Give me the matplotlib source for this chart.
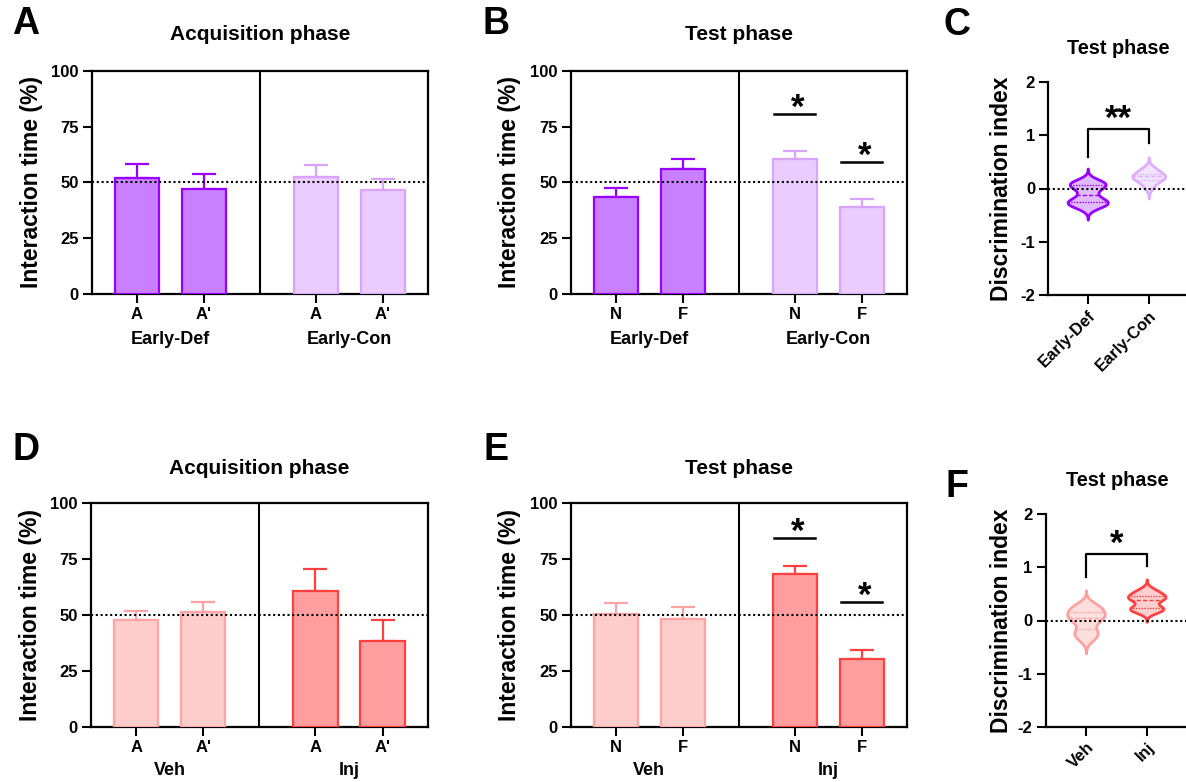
import numpy as np
import matplotlib
matplotlib.use("Agg")
import matplotlib.pyplot as plt
from matplotlib.transforms import blended_transform_factory

plt.rcParams["font.family"] = ["Liberation Sans", "DejaVu Sans"]
plt.rcParams["font.weight"] = "bold"
plt.rcParams["axes.unicode_minus"] = False

# ---- data ----
acq_def_mean = [51.8, 47.2]
acq_def_sem = [6.4, 6.5]
acq_con_mean = [52.5, 46.7]
acq_con_sem = [5.1, 4.9]

test_def_mean = [43.4, 56.0]
test_def_sem = [4.2, 4.3]
test_con_mean = [60.4, 39.0]
test_con_sem = [3.5, 3.5]

acq_veh_mean = [47.6, 51.3]
acq_veh_sem = [4.3, 4.4]
acq_inj_mean = [60.6, 38.2]
acq_inj_sem = [9.9, 9.6]

test_veh_mean = [50.6, 48.4]
test_veh_sem = [4.9, 5.2]
test_inj_mean = [68.4, 30.3]
test_inj_sem = [3.7, 4.0]

acq_ticks = ["A", "A'", "A", "A'"]
test_ticks = ["N", "F", "N", "F"]

# discrimination index, individual animals (estimated)
di_early_def = [-0.36, -0.3, -0.27, -0.25, -0.22, -0.13, -0.03, 0.05, 0.07, 0.1, 0.15]
di_early_con = [0.02, 0.13, 0.16, 0.2, 0.23, 0.24, 0.27, 0.33, 0.38]
di_veh = [-0.35, -0.25, -0.2, -0.05, 0.03, 0.08, 0.12, 0.18, 0.24, 0.3]
di_inj = [0.17, 0.2, 0.23, 0.26, 0.38, 0.41, 0.44, 0.47, 0.52, 0.58]

# ---- colours ----
PUR_D = ("#C880FF", "#9900FF")
PUR_L = ("#EACCFF", "#D9A3FF")
RED_D = ("#FF9E9E", "#FF4040")
RED_L = ("#FFCCCC", "#FFA3A3")

W, H = 1186, 782
fig = plt.figure(figsize=(W / 100, H / 100), dpi=100)


def rect(l, t, r, b):
    return [l / W, 1 - b / H, (r - l) / W, (b - t) / H]


bar_pos = np.array([0, 1, 2.67, 3.67])


def bar_panel(box, means1, sems1, means2, sems2, c1, c2, ticks, groups, sig, grp_y):
    ax = fig.add_axes(rect(*box))
    for pos, m, s, (fc, ec) in [(bar_pos[:2], means1, sems1, c1), (bar_pos[2:], means2, sems2, c2)]:
        ax.bar(pos, m, width=0.66, color=fc, edgecolor=ec, linewidth=1.6, zorder=3)
        ax.errorbar(pos, m, yerr=[np.zeros(len(s)), s], fmt="none", ecolor=ec,
                    elinewidth=1.6, capsize=8.5, capthick=1.6, zorder=2)
    ax.axhline(50, color="black", lw=1.5, ls=(0, (1, 1.3)), zorder=6)
    ax.axvline((bar_pos[1] + bar_pos[2]) / 2, color="black", lw=1.5, zorder=6)
    ax.set_xlim(-0.672, 4.343)
    ax.set_ylim(0, 100)
    ax.set_yticks([0, 25, 50, 75, 100])
    ax.set_xticks(bar_pos)
    ax.set_xticklabels(ticks)
    ax.tick_params(length=6.5, width=1.5, labelsize=12, pad=3)
    for sp in ax.spines.values():
        sp.set_linewidth(1.6)
    ax.set_ylabel("Interaction time (%)", fontsize=16.5, fontweight="bold")
    ax.yaxis.set_label_coords(-0.147, 0.5)
    tr = blended_transform_factory(ax.transData, ax.transAxes)
    ax.text(bar_pos[:2].mean(), grp_y, groups[0], transform=tr, ha="center", va="center", fontsize=13)
    ax.text(bar_pos[2:].mean(), grp_y, groups[1], transform=tr, ha="center", va="center", fontsize=13)
    for i, y in sig:
        x = bar_pos[i]
        ax.plot([x - 0.31, x + 0.31], [y, y], color="black", lw=1.8, clip_on=False)
        ax.text(x + 0.05, y - 4.8, "*", ha="center", va="bottom", fontsize=25)
    return ax


def kde(pts, grid, bw):
    pts = np.asarray(pts)[:, None]
    return np.exp(-0.5 * ((grid[None, :] - pts) / bw) ** 2).sum(axis=0)


def violin(ax, x, pts, bw, half, fc, ec):
    grid = np.linspace(min(pts) - 3 * bw, max(pts) + 3 * bw, 300)
    d = kde(pts, grid, bw)
    w = d / d.max() * half
    ax.fill_betweenx(grid, x - w, x + w, facecolor=fc, edgecolor=ec, lw=2.0, zorder=3)
    q1, med, q3 = np.percentile(pts, [25, 50, 75])
    for q, ls in [(q1, (0, (1, 1))), (med, (0, (3, 1.5))), (q3, (0, (1, 1)))]:
        wq = np.interp(q, grid, w)
        ax.plot([x - wq, x + wq], [q, q], color=ec, lw=1.0, ls=ls, zorder=4)


def violin_panel(box, xl, d1, d2, bws, halves, cols, labels, stars, bracket, lab_x):
    ax = fig.add_axes(rect(*box))
    violin(ax, 0, d1, bws[0], halves[0], *cols[0])
    violin(ax, 1, d2, bws[1], halves[1], *cols[1])
    ax.axhline(0, color="black", lw=1.5, ls=(0, (1, 1.3)), zorder=6)
    ax.set_xlim(*xl)
    ax.set_ylim(-2, 2)
    ax.set_yticks([-2, -1, 0, 1, 2])
    ax.set_xticks([0, 1])
    ax.set_xticklabels(labels, rotation=45, ha="right", rotation_mode="anchor")
    ax.tick_params(length=6.5, width=1.5, labelsize=12, pad=3)
    ax.spines["top"].set_visible(False)
    ax.spines["right"].set_visible(False)
    for sp in ("left", "bottom"):
        ax.spines[sp].set_linewidth(1.6)
    ax.set_ylabel("Discrimination index", fontsize=16.5, fontweight="bold")
    ax.yaxis.set_label_coords(lab_x, 0.5)
    ax.plot([0, 0, 1, 1], bracket, color="black", lw=1.6)
    ax.text(0.5, bracket[1] - 0.13, stars, ha="center", va="bottom", fontsize=25)
    return ax


bar_panel((92, 70.7, 428, 294), acq_def_mean, acq_def_sem, acq_con_mean, acq_con_sem,
          PUR_D, PUR_L, acq_ticks, ["Early-Def", "Early-Con"], [], -0.205)
bar_panel((570.7, 70.7, 906.7, 294), test_def_mean, test_def_sem, test_con_mean, test_con_sem,
          PUR_D, PUR_L, test_ticks, ["Early-Def", "Early-Con"], [(2, 80.7), (3, 59.0)], -0.205)
bar_panel((91, 503.3, 427.7, 726.7), acq_veh_mean, acq_veh_sem, acq_inj_mean, acq_inj_sem,
          RED_L, RED_D, acq_ticks, ["Veh", "Inj"], [], -0.195)
bar_panel((570.7, 503.3, 906.7, 726.7), test_veh_mean, test_veh_sem, test_inj_mean, test_inj_sem,
          RED_L, RED_D, test_ticks, ["Veh", "Inj"], [(2, 84.6), (3, 55.7)], -0.195)

violin_panel((1048.3, 82, 1186, 295), (-0.646, 1.611), di_early_def, di_early_con,
             (0.075, 0.07), (0.33, 0.27), [("#E0BBFF", "#9900FF"), ("#F2E3FF", "#DDB0FF")],
             ["Early-Def", "Early-Con"], "**", [0.6, 1.12, 1.12, 0.85], -0.255)
violin_panel((1045.7, 514.3, 1186, 726.7), (-0.664, 1.647), di_veh, di_inj,
             (0.09, 0.065), (0.31, 0.31), [("#FFDEDE", "#FFA0A0"), ("#FFCFCF", "#FF4040")],
             ["Veh", "Inj"], "*", [0.82, 1.26, 1.26, 1.02], -0.235)

# titles and panel letters
for x, y, t, s in [(260, 35, "Acquisition phase", 15), (739, 35, "Test phase", 15),
                   (1118, 48, "Test phase", 14.3), (259, 468, "Acquisition phase", 15),
                   (739, 468, "Test phase", 15), (1117, 480, "Test phase", 14.3)]:
    fig.text(x / W, 1 - y / H, t, ha="center", va="center", fontsize=s, fontweight="bold")

for x, y, t in [(26, 24, "A"), (496, 24, "B"), (957, 25, "C"),
                (26, 450, "D"), (496, 450, "E"), (957, 487, "F")]:
    fig.text(x / W, 1 - y / H, t, ha="center", va="center", fontsize=27, fontweight="bold")

fig.savefig("out.png", dpi=100)
